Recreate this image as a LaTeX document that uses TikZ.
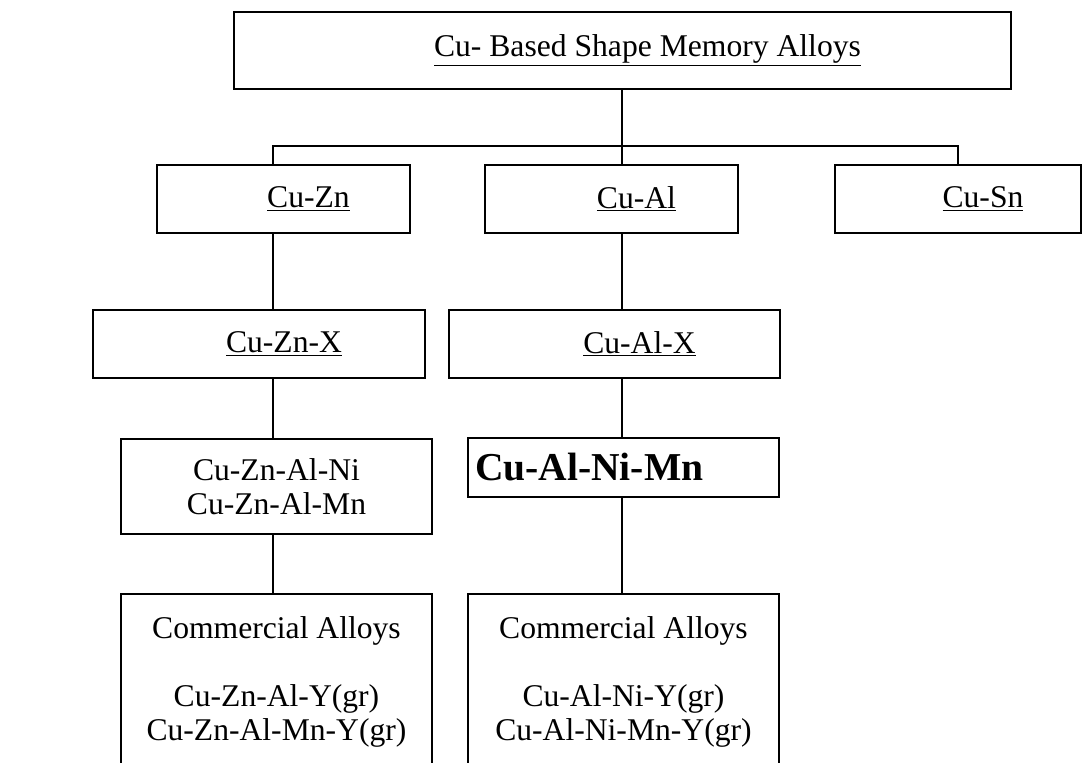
\documentclass[tikz,border=0pt]{standalone}
\usepackage{fontspec}
\setmainfont{Liberation Serif}
\usepackage{tikz}
% underlined label, pushed right by half of #1
\newcommand{\lbl}[2][1cm]{\hspace*{#1}\underline{#2}}

\begin{document}
\begin{tikzpicture}[x = 0.02cm, y = -0.02cm,
  every node/.style = {font = \fontsize{18}{19.35}\selectfont},
  box/.style = {draw, line width = 1.4pt, align = center, inner sep = 0pt},
  link/.style = {line width = 1.4pt}]
\useasboundingbox (0, 0) rectangle (1083, 763);
\coordinate (cola) at (273, 0);
\coordinate (colb) at (622, 0);
\coordinate (bus) at (622, 146);
% family and binary alloys
\node (top) at (622.5, 50.5) [box, minimum width = 15.54cm, minimum height = 1.54cm] {\lbl{Cu- Based Shape Memory Alloys}};
\node (cuzn) at (283.5, 199) [box, minimum width = 5.06cm, minimum height = 1.36cm] {\lbl{Cu-Zn}};
\node (cual) at (611.5, 199) [box, minimum width = 5.06cm, minimum height = 1.36cm] {\lbl{Cu-Al}};
\node (cusn) at (958, 199) [box, minimum width = 4.92cm, minimum height = 1.36cm] {\lbl{Cu-Sn}};
% ternary and quaternary
\node (cuznx) at (259, 344) [box, minimum width = 6.64cm, minimum height = 1.36cm] {\lbl{Cu-Zn-X}};
\node (cualx) at (614.5, 344) [box, minimum width = 6.62cm, minimum height = 1.36cm] {\lbl{Cu-Al-X}};
\node (cuznalni) at (276.5, 486.5) [box, minimum width = 6.22cm, minimum height = 1.9cm] {Cu-Zn-Al-Ni\\Cu-Zn-Al-Mn};
\node (cualnimn) at (623.5, 467.5) [box, minimum width = 6.22cm, minimum height = 1.18cm, text width = 5.94cm, align = left, font = \fontsize{22.5}{26}\selectfont\bfseries] {Cu-Al-Ni-Mn};
% commercial
\node (comzn) at (276.5, 593) [box, anchor = north, minimum width = 6.22cm, inner ysep = 0.45cm] {\parbox[c][4cm][t]{6cm}{\centering Commercial Alloys\\[0.68cm] Cu-Zn-Al-Y(gr)\\ Cu-Zn-Al-Mn-Y(gr)}};
\node (comal) at (623.5, 593) [box, anchor = north, minimum width = 6.22cm, inner ysep = 0.45cm] {\parbox[c][4cm][t]{6cm}{\centering Commercial Alloys\\[0.68cm] Cu-Al-Ni-Y(gr)\\ Cu-Al-Ni-Mn-Y(gr)}};
% links
\draw[link] (top.south -| colb) -- (cual.north -| colb);
\draw[link] (cuzn.north -| cola) |- (bus) -| (cusn.north);
\draw[link] (cuzn.south -| cola) -- (cuznx.north -| cola);
\draw[link] (cuznx.south -| cola) -- (cuznalni.north -| cola);
\draw[link] (cuznalni.south -| cola) -- (comzn.north -| cola);
\draw[link] (cual.south -| colb) -- (cualx.north -| colb);
\draw[link] (cualx.south -| colb) -- (cualnimn.north -| colb);
\draw[link] (cualnimn.south -| colb) -- (comal.north -| colb);
\end{tikzpicture}
\end{document}
